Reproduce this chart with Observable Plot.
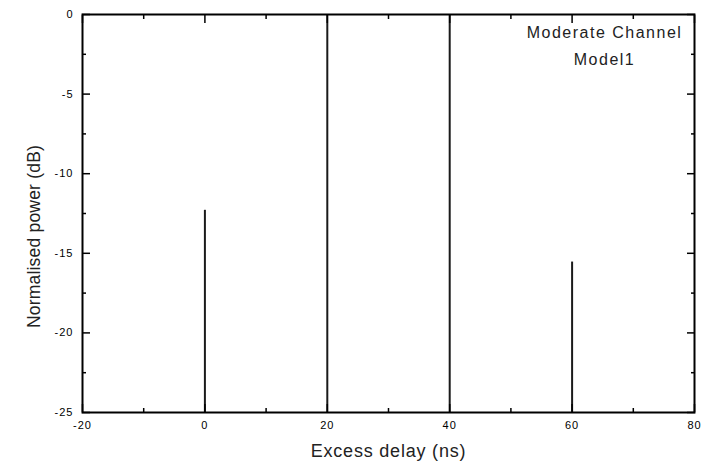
<!DOCTYPE html>
<html>
<head>
<meta charset="utf-8">
<script src="https://cdn.jsdelivr.net/npm/d3@7"></script>
<script src="https://cdn.jsdelivr.net/npm/@observablehq/plot@0.6"></script>
<style>
  html, body { margin: 0; padding: 0; background: #fff; }
  #chart svg { display: block; }
</style>
</head>
<body>
<div id="chart"></div>
<script>
// Data
const delays = [0, 20, 40, 60];          // Excess delay (ns)
const powers = [-12.3, 0, 0, -15.55];    // Normalised power (dB)
const xMajorTicks = [-20, 0, 20, 40, 60, 80];
const xMinorTicks = [-10, 10, 30, 50, 70];
const yMajorTicks = [0, -5, -10, -15, -20, -25];
const yMinorTicks = [-2.5, -7.5, -12.5, -17.5, -22.5];
const legendLines = ["Moderate Channel", "Model1"];
const xLabel = "Excess delay (ns)";
const yLabel = "Normalised power (dB)";

const data = delays.map((d, i) => ({delay: d, power: powers[i]}));
const font = "'Liberation Sans', Arial, sans-serif";

const chart = Plot.plot({
  width: 707,
  height: 466,
  marginLeft: 82,
  marginRight: 13,
  marginTop: 14,
  marginBottom: 54,
  style: {fontFamily: font, background: "#fff", color: "#000"},
  x: {domain: [-20, 80]},
  y: {domain: [-25, 0]},
  marks: [
    Plot.ruleX(data, {x: "delay", y1: -25, y2: "power", stroke: "#1a1a1a", strokeWidth: 2}),
    // inward ticks, all four sides
    Plot.axisX({anchor: "bottom", ticks: xMajorTicks, tickSize: -8, text: null, label: null, stroke: "#000", strokeWidth: 1.5}),
    Plot.axisX({anchor: "bottom", ticks: xMinorTicks, tickSize: -4, text: null, label: null, stroke: "#000", strokeWidth: 1.5}),
    Plot.axisX({anchor: "top", ticks: xMajorTicks, tickSize: -8, text: null, label: null, stroke: "#000", strokeWidth: 1.5}),
    Plot.axisX({anchor: "top", ticks: xMinorTicks, tickSize: -4, text: null, label: null, stroke: "#000", strokeWidth: 1.5}),
    Plot.axisY({anchor: "left", ticks: yMajorTicks, tickSize: -8, text: null, label: null, stroke: "#000", strokeWidth: 1.5}),
    Plot.axisY({anchor: "left", ticks: yMinorTicks, tickSize: -4, text: null, label: null, stroke: "#000", strokeWidth: 1.5}),
    Plot.axisY({anchor: "right", ticks: yMajorTicks, tickSize: -8, text: null, label: null, stroke: "#000", strokeWidth: 1.5}),
    Plot.axisY({anchor: "right", ticks: yMinorTicks, tickSize: -4, text: null, label: null, stroke: "#000", strokeWidth: 1.5}),
    // tick labels
    Plot.axisX({anchor: "bottom", ticks: xMajorTicks, tickSize: 0, tickPadding: 9, tickFormat: d => String(d), label: null, fontSize: 11, fill: "#000"}),
    Plot.axisY({anchor: "left", ticks: yMajorTicks, tickSize: 0, tickPadding: 9, tickFormat: d => String(d), label: null, fontSize: 11, fill: "#000"}),
    Plot.frame({stroke: "#000", strokeWidth: 2}),
    // axis titles
    Plot.text([xLabel], {frameAnchor: "bottom", dy: 44, textAnchor: "middle", fontSize: 18, fill: "#222"}),
    Plot.text([yLabel], {frameAnchor: "left", dx: -48, dy: 23, textAnchor: "middle", rotate: -90, fontSize: 17.5, fill: "#222"}),
    // legend
    Plot.text([legendLines.join("\n")], {frameAnchor: "top-right", dx: -90, dy: 5, textAnchor: "middle", lineAnchor: "top", lineHeight: 1.65, fontSize: 16, fill: "#222"})
  ]
});

// letter spacing (styling only) to match the reference's wide sans-serif face
d3.select(chart).selectAll("text").each(function () {
  const t = this.textContent;
  const el = d3.select(this);
  if (t === xLabel) el.style("letter-spacing", "0.8px");
  else if (t === yLabel) el.style("letter-spacing", "0.2px");
  else if (legendLines.some(l => t.includes(l))) el.style("letter-spacing", "1.5px");
  else el.style("letter-spacing", "1px");
});
document.getElementById("chart").appendChild(chart);
</script>
</body>
</html>
